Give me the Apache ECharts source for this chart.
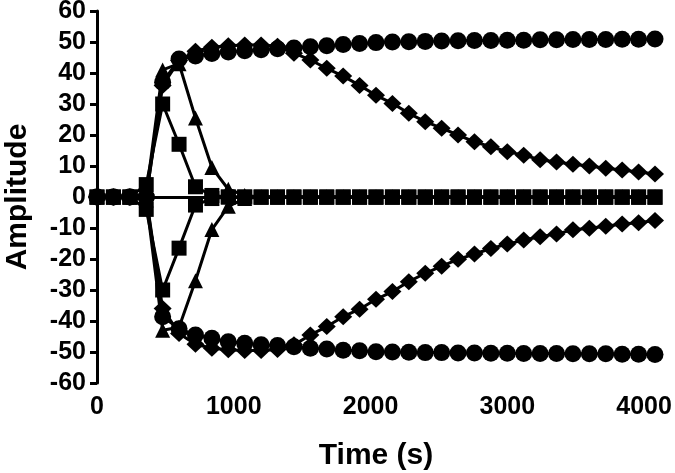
<!DOCTYPE html>
<html>
<head>
<meta charset="utf-8">
<script src="https://cdn.jsdelivr.net/npm/echarts@6/dist/echarts.min.js"></script>
<style>
    html, body { margin: 0; padding: 0; background: #fff; }
    #chart { width: 675px; height: 473px; }
</style>
</head>
<body>
<div id="chart"></div>
<script>
const times = [0, 120, 240, 360, 480, 600, 720, 840, 960, 1080, 1200, 1320, 1440, 1560, 1680, 1800, 1920, 2040,
    2160, 2280, 2400, 2520, 2640, 2760, 2880, 3000, 3120, 3240, 3360, 3480, 3600, 3720, 3840, 3960, 4080];

const circlePos = [0, 0, 0, 0, 37, 44.5, 45.5, 46.3, 46.8, 47.2, 47.5, 47.8, 48.1, 48.5, 48.8, 49.2, 49.5, 49.8,
    50.0, 50.1, 50.2, 50.3, 50.4, 50.5, 50.5, 50.6, 50.6, 50.7, 50.7, 50.8, 50.8, 50.8, 50.9, 50.9, 51.0];
const circleNeg = [0, 0, 0, 0, -38.6, -42.5, -44.5, -45.6, -46.7, -47.2, -47.7, -47.9, -48.3, -48.8, -49.0, -49.4, -49.6, -49.9,
    -50.0, -50.1, -50.2, -50.2, -50.3, -50.3, -50.4, -50.4, -50.5, -50.5, -50.5, -50.6, -50.6, -50.6, -50.7, -50.7, -50.8];

const diamondPos = [0, 0, 0, 0, 36, 44, 47, 48.3, 48.8, 49, 49, 48.6, 46.4, 44.2, 41.5, 39, 36, 32.8,
    30.2, 27, 24.3, 22.2, 20, 17.8, 16.2, 14.6, 13.5, 12, 11.3, 10.6, 10, 9.3, 8.7, 8.1, 7.4];
const diamondNeg = [0, 0, 0, 0, -36, -44, -47.5, -48.8, -49.3, -49.5, -49.5, -49.2, -47.7, -44.5, -41.8, -38.6, -36.2, -33,
    -30.5, -27.3, -24.6, -22.3, -20.1, -18.4, -16.6, -15.2, -13.9, -12.8, -11.9, -10.6, -10.1, -9.4, -8.7, -8.3, -7.6];

const trianglePos = [0, 0, 0, 1, 41, 43, 25.5, 9.5, 2.5, 0.5, 0, 0, 0, 0, 0, 0, 0, 0,
    0, 0, 0, 0, 0, 0, 0, 0, 0, 0, 0, 0, 0, 0, 0, 0, 0];
const triangleNeg = [0, 0, 0, -1, -43, -42, -27, -10.5, -3, -0.5, 0, 0, 0, 0, 0, 0, 0, 0,
    0, 0, 0, 0, 0, 0, 0, 0, 0, 0, 0, 0, 0, 0, 0, 0, 0];

const squarePos = [0, 0, 0, 4, 30, 17, 3.3, 0.5, 0, 0, 0, 0, 0, 0, 0, 0, 0, 0,
    0, 0, 0, 0, 0, 0, 0, 0, 0, 0, 0, 0, 0, 0, 0, 0, 0];
const squareNeg = [0, 0, 0, -4, -30, -16.5, -2.6, -0.5, 0, 0, 0, 0, 0, 0, 0, 0, 0, 0,
    0, 0, 0, 0, 0, 0, 0, 0, 0, 0, 0, 0, 0, 0, 0, 0, 0];

const xTicks = [0, 1000, 2000, 3000, 4000];

const font = '"Liberation Sans", Arial, sans-serif';

function makeSeries(values, symbol, size) {
    return {
        type: 'line',
        data: times.map((t, i) => [t, values[i]]),
        symbol: symbol,
        symbolSize: size,
        showAllSymbol: true,
        lineStyle: { color: '#000', width: 3 },
        itemStyle: { color: '#000' },
        animation: false
    };
}

const chart = echarts.init(document.getElementById('chart'));
chart.setOption({
    backgroundColor: '#fff',
    grid: { left: 97, right: 20, top: 11, bottom: 90, outerBoundsMode: 'none', containLabel: false },
    xAxis: {
        type: 'value',
        min: 0,
        max: 4080,
        name: 'Time (s)',
        nameLocation: 'middle',
        nameGap: 58,
        nameTextStyle: { fontFamily: font, fontWeight: 'bold', fontSize: 30, color: '#000' },
        axisLine: { lineStyle: { color: '#000', width: 3 } },
        axisTick: { customValues: xTicks, length: 7, lineStyle: { color: '#000', width: 3 } },
        axisLabel: {
            customValues: xTicks,
            formatter: (v) => String(v),
            margin: 12,
            fontFamily: font, fontWeight: 'bold', fontSize: 25, color: '#000'
        },
        splitLine: { show: false }
    },
    yAxis: {
        type: 'value',
        min: -60,
        max: 60,
        interval: 10,
        name: 'Amplitude',
        nameLocation: 'middle',
        nameGap: 64,
        nameTextStyle: { fontFamily: font, fontWeight: 'bold', fontSize: 30, color: '#000' },
        axisLine: { show: true, lineStyle: { color: '#000', width: 3 } },
        axisTick: { show: true, length: 7, lineStyle: { color: '#000', width: 3 } },
        axisLabel: { margin: 11, fontFamily: font, fontWeight: 'bold', fontSize: 25, color: '#000' },
        splitLine: { show: false }
    },
    series: [
        makeSeries(circlePos, 'circle', 17),
        makeSeries(circleNeg, 'circle', 17),
        makeSeries(diamondPos, 'diamond', [18, 17]),
        makeSeries(diamondNeg, 'diamond', [18, 17]),
        makeSeries(trianglePos, 'triangle', 15),
        makeSeries(triangleNeg, 'triangle', 15),
        makeSeries(squarePos, 'rect', 15),
        makeSeries(squareNeg, 'rect', 15)
    ]
});
</script>
</body>
</html>
